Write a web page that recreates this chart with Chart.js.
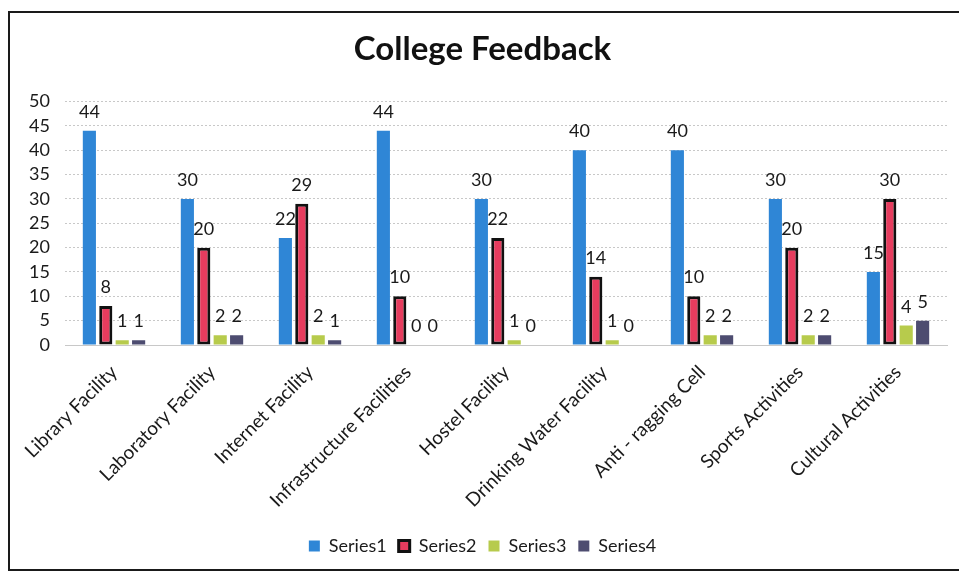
<!DOCTYPE html>
<html>
<head>
<meta charset="utf-8">
<script src="https://cdn.jsdelivr.net/npm/chart.js@4/dist/chart.umd.min.js"></script>
<style>
  html, body { margin: 0; padding: 0; background: #ffffff; }
  #wrap { position: relative; width: 959px; height: 575px; overflow: hidden; }
  #frame { position: absolute; left: 8px; top: 11px; width: 980px; height: 560px; border: 2px solid #1a1a1a; box-sizing: border-box; }
  canvas { position: absolute; left: 0; top: 0; }
</style>
</head>
<body>
<div id="wrap">
  <div id="frame"></div>
  <canvas id="c" width="959" height="575"></canvas>
</div>
<script>
const categories = ["Library Facility", "Laboratory Facility", "Internet Facility", "Infrastructure Facilities", "Hostel Facility", "Drinking Water Facility", "Anti - ragging Cell", "Sports Activities", "Cultural Activities"];
const series1 = [44, 30, 22, 44, 30, 40, 40, 30, 15];
const series2 = [8, 20, 29, 10, 22, 14, 10, 20, 30];
const series3 = [1, 2, 2, 0, 1, 1, 2, 2, 4];
const series4 = [1, 2, 1, 0, 0, 0, 2, 2, 5];
const seriesNames = ["Series1", "Series2", "Series3", "Series4"];
const yTicks = [0, 5, 10, 15, 20, 25, 30, 35, 40, 45, 50];

const FONT = "Lato, 'Open Sans', sans-serif";

const labelPlugin = {
  id: 'valueLabels',
  afterDatasetsDraw(chart) {
    const ctx = chart.ctx;
    ctx.save();
    ctx.font = "18px " + FONT;
    ctx.fillStyle = "#1a1a1a";
    ctx.textAlign = "center";
    ctx.textBaseline = "alphabetic";
    chart.data.datasets.forEach((ds, i) => {
      const meta = chart.getDatasetMeta(i);
      meta.data.forEach((bar, j) => {
        ctx.fillText(String(ds.data[j]), bar.x, bar.y - 13);
      });
    });
    ctx.restore();
  }
};

new Chart(document.getElementById('c'), {
  type: 'bar',
  data: {
    labels: categories,
    datasets: [
      { label: seriesNames[0], data: series1, backgroundColor: '#2f86d6', borderWidth: 0 },
      { label: seriesNames[1], data: series2, backgroundColor: '#e63c5e', borderColor: '#111111', borderWidth: 3, borderSkipped: false },
      { label: seriesNames[2], data: series3, backgroundColor: '#b7cb4c', borderWidth: 0 },
      { label: seriesNames[3], data: series4, backgroundColor: '#4d4c70', borderWidth: 0 }
    ]
  },
  options: {
    responsive: false,
    animation: false,
    categoryPercentage: 0.67,
    barPercentage: 0.8,
    layout: { padding: { left: 18, right: 12, top: 0, bottom: 10 } },
    plugins: {
      title: {
        display: true,
        text: 'College Feedback',
        color: '#111111',
        font: { family: FONT, size: 33, weight: 'bold' },
        padding: { top: 30, bottom: 32 }
      },
      legend: {
        position: 'bottom',
        labels: {
          color: '#1a1a1a',
          font: { family: FONT, size: 18 },
          boxWidth: 11,
          boxHeight: 11,
          padding: 12
        }
      },
      tooltip: { enabled: false }
    },
    scales: {
      x: {
        grid: { display: false },
        border: { display: true, color: '#c8c8c8' },
        ticks: {
          color: '#1a1a1a',
          font: { family: FONT, size: 19 },
          minRotation: 45,
          maxRotation: 45,
          autoSkip: false,
          padding: 8
        },
        afterFit(scale) { scale.height = 180; }
      },
      y: {
        min: 0,
        max: 50,
        afterBuildTicks(scale) { scale.ticks = yTicks.map(v => ({ value: v })); },
        grid: { color: '#c8c8c8', borderDash: [2, 2], drawTicks: false },
        border: { display: false, dash: [2, 2] },
        ticks: {
          color: '#1a1a1a',
          font: { family: FONT, size: 18 },
          padding: 15,
          autoSkip: false,
          stepSize: 5
        },
        afterFit(scale) { scale.width = 47; }
      }
    }
  },
  plugins: [labelPlugin]
});
</script>
</body>
</html>
